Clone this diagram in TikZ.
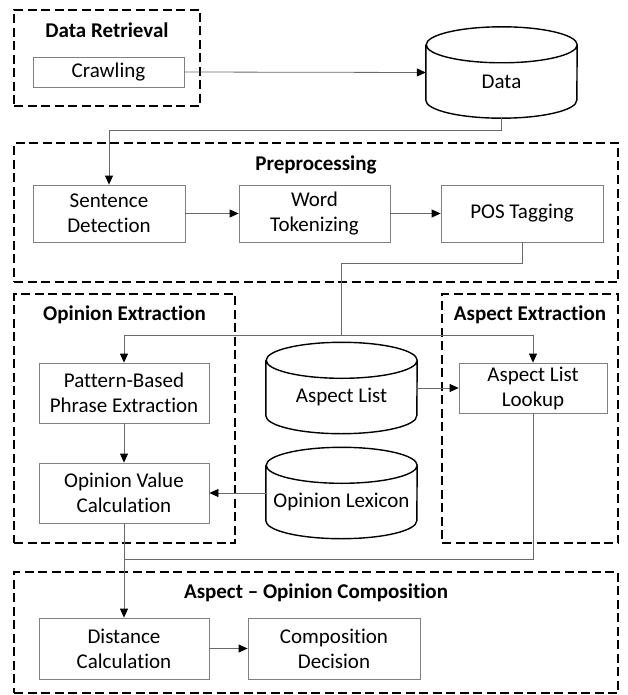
\documentclass[tikz,border=0pt]{standalone}
\usepackage{fontspec}
\setmainfont[Ligatures=NoCommon]{Carlito}
\usetikzlibrary{arrows.meta}
\definecolor{boxgray}{RGB}{128,128,128}
\definecolor{linegray}{RGB}{105,105,105}
\newcommand{\cylout}[1]{\draw[cylline] ([yshift=-18pt]#1.north west) -- ([yshift=18pt]#1.south west) arc[start angle=180,end angle=360,x radius=75.5pt,y radius=18pt] -- ([yshift=-18pt]#1.north east) arc[start angle=0,end angle=180,x radius=75.5pt,y radius=18pt] arc[start angle=180,end angle=360,x radius=75.5pt,y radius=18pt];}
\begin{document}
\begin{tikzpicture}[x=1pt,y=-1pt,
  every node/.style={font=\fontsize{21}{25}\selectfont, inner sep=0pt, align=center},
  proc/.style={draw=boxgray, line width=0.8pt},
  group/.style={draw=black, line width=1.5pt, dash pattern=on 9pt off 4.5pt},
  grouptitle/.style={font=\fontsize{21}{25}\selectfont\bfseries},
  cyl/.style={minimum width=151pt, minimum height=91pt},
  cylline/.style={draw=black, line width=1.4pt},
  conn/.style={draw=linegray, line width=0.8pt},
  arr/.style={conn, -{Triangle[length=9pt,width=8pt,color=black]}}
]
\useasboundingbox (0,0) rectangle (627,695);

% groups
\node[group, minimum width=186pt, minimum height=96pt] (gDR) at (107,58) {};
\node[group, minimum width=604pt, minimum height=139pt] (gPP) at (316,212.5) {};
\node[group, minimum width=221pt, minimum height=249pt] (gOE) at (124.5,418.5) {};
\node[group, minimum width=176pt, minimum height=249pt] (gAE) at (530,418.5) {};
\node[group, minimum width=604pt, minimum height=121pt] (gAO) at (316,632.5) {};

% titles
\node[grouptitle] (tDR) at (107,30) {Data Retrieval};
\node[grouptitle] (tPP) at (316,165) {Preprocessing};
\node[grouptitle] (tOE) at (124.5,315) {Opinion Extraction};
\node[grouptitle] (tAE) at (530,315) {Aspect Extraction};
\node[grouptitle] (tAO) at (316,593) {Aspect -- Opinion Composition};

% process boxes
\node[proc, minimum width=151pt, minimum height=30pt] (crawl) at (108.5,72) {Crawling};
\node[proc, minimum width=152pt, minimum height=57pt] (sent) at (109,213.5) {Sentence\\Detection};
\node[proc, minimum width=151pt, minimum height=57pt] (word) at (314.5,213.5) {Word\\Tokenizing};
\node[proc, minimum width=162pt, minimum height=57pt] (pos) at (522,213.5) {POS Tagging};
\node[proc, minimum width=170pt, minimum height=60pt] (pattern) at (124,393) {Pattern-Based\\Phrase Extraction};
\node[proc, minimum width=170pt, minimum height=60pt] (opval) at (124,493) {Opinion Value\\Calculation};
\node[proc, minimum width=148pt, minimum height=50pt] (lookup) at (533,388) {Aspect List\\Lookup};
\node[proc, minimum width=170pt, minimum height=61pt] (dist) at (124,648.5) {Distance\\Calculation};
\node[proc, minimum width=172pt, minimum height=61pt] (comp) at (334,648.5) {Composition\\Decision};

% cylinders
\node[cyl] (data) at (501.5,72.5) {};
\cylout{data}
\node (dataT) at ([yshift=-9.5pt]data.center) {Data};
\node[cyl] (alist) at (341.5,388) {};
\cylout{alist}
\node (alistT) at ([yshift=-9pt]alist.center) {Aspect List};
\node[cyl] (lex) at (341.5,493) {};
\cylout{lex}
\node (lexT) at ([yshift=-9pt]lex.center) {Opinion Lexicon};

% connectors
\coordinate (c1) at (501.5,130);
\coordinate (b1) at (341.5,263);
\coordinate (b2) at (341.5,335);
\coordinate (j1) at (124,559);

\draw[arr] (crawl.east) -- (data.west);
\draw[arr] (data.south) -- (c1) -| (sent.north);
\draw[arr] (sent.east) -- (word.west);
\draw[arr] (word.east) -- (pos.west);
\draw[conn] (pos.south) |- (b1) -- (b2);
\draw[arr] (b2) -| (pattern.north);
\draw[arr] (b2) -| (lookup.north);
\draw[arr] (pattern.south) -- (opval.north);
\draw[arr] (alist.east) -- (lookup.west);
\draw[arr] (lex.west) -- (opval.east);
\draw[conn] (lookup.south) |- (j1);
\draw[arr] (opval.south) -- (dist.north);
\draw[arr] (dist.east) -- (comp.west);
\end{tikzpicture}
\end{document}
